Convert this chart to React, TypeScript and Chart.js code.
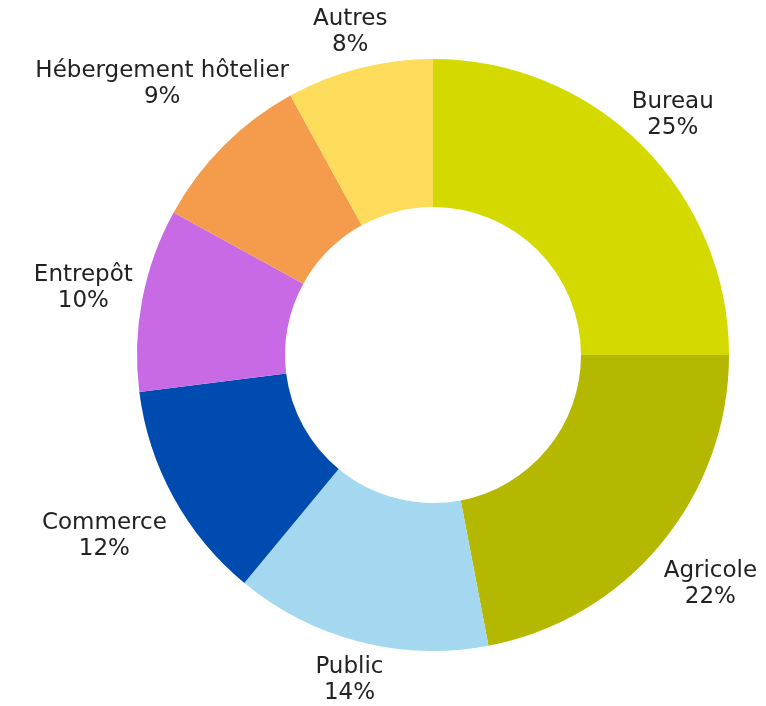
import React, { useEffect, useRef } from "react";
import { Chart, registerables } from "chart.js";

Chart.register(...registerables);

const categories = ["Bureau", "Agricole", "Public", "Commerce", "Entrepôt", "Hébergement hôtelier", "Autres"];
const values = [25, 22, 14, 12, 10, 9, 8];
const colors = ["#D4DA00", "#B4B800", "#A4D8F1", "#004BAF", "#C86AE6", "#F59C4C", "#FEDC5B"];

const labelPlugin = {
  id: "outerLabels",
  afterDatasetsDraw(chart: any, _args: any, opts: any) {
    const ctx = chart.ctx;
    const meta = chart.getDatasetMeta(0);
    const total = values.reduce((a, b) => a + b, 0);
    const gaps: number[] = opts.gaps || [];
    ctx.save();
    ctx.font = "23px 'DejaVu Sans'";
    ctx.fillStyle = "#222222";
    ctx.textAlign = "center";
    ctx.textBaseline = "middle";
    const lh = 26;
    meta.data.forEach((arc: any, i: number) => {
      const p = arc.getProps(["x", "y", "startAngle", "endAngle", "outerRadius"], true);
      const mid = (p.startAngle + p.endAngle) / 2;
      const d = p.outerRadius + (gaps[i] ?? 40);
      const cx = p.x + Math.cos(mid) * d;
      const cy = p.y + Math.sin(mid) * d;
      const l1 = categories[i];
      const l2 = Math.round((values[i] / total) * 100) + "%";
      ctx.fillText(l1, cx, cy - lh / 2);
      ctx.fillText(l2, cx, cy + lh / 2);
    });
    ctx.restore();
  },
};

export default function App() {
  const ref = useRef<HTMLCanvasElement>(null);
  useEffect(() => {
    document.body.style.margin = "0";
    if (!ref.current) return;
    const chart = new Chart(ref.current, {
      type: "doughnut",
      data: {
        labels: categories,
        datasets: [
          {
            data: values,
            backgroundColor: colors,
            borderWidth: 0,
            hoverOffset: 0,
            radius: 296,
          } as any,
        ],
      },
      options: {
        responsive: false,
        animation: false,
        cutout: "50%",
        layout: { padding: { left: 100, right: 0, top: 4, bottom: 0 } },
        plugins: {
          legend: { display: false },
          tooltip: { enabled: false },
          outerLabels: { gaps: [43, 64, 40, 79, 60, 87, 37] },
        } as any,
      },
      plugins: [labelPlugin],
    });
    return () => chart.destroy();
  }, []);
  return (
    <div style={{ width: 766, height: 706 }}>
      <canvas ref={ref} width={766} height={706} style={{ display: "block" }} />
    </div>
  );
}
